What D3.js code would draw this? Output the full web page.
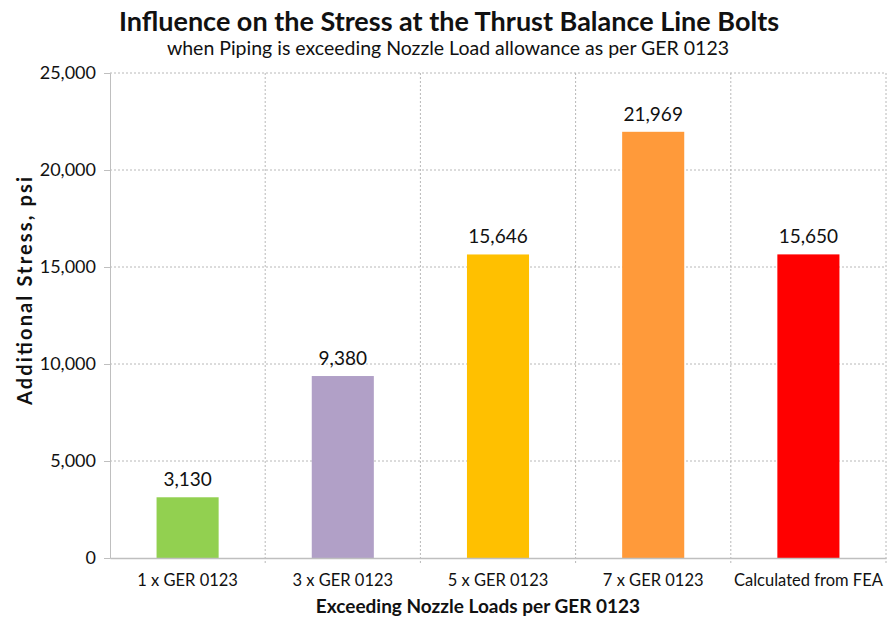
<!DOCTYPE html>
<html>
<head>
<meta charset="utf-8">
<script src="https://cdn.jsdelivr.net/npm/d3@7"></script>
<style>
  body { margin: 0; background: #fff; }
  svg { font-family: Lato, "Open Sans", sans-serif; }
</style>
</head>
<body>
<div id="chart"></div>
<script>
// chart data
const categories = ["1 x GER 0123", "3 x GER 0123", "5 x GER 0123", "7 x GER 0123", "Calculated from FEA"];
const stress = [3130, 9380, 15646, 21969, 15650];
const barColors = ["#92D050", "#B1A0C7", "#FFC000", "#FF9A3A", "#FF0000"];
const yTicks = [0, 5000, 10000, 15000, 20000, 25000];

const W = 891, H = 622;
const margin = { top: 73, right: 5, bottom: 64, left: 110 },
  width = W - margin.left - margin.right,
  height = H - margin.top - margin.bottom;

const root = d3.select("#chart")
  .append("svg")
  .attr("width", W)
  .attr("height", H);

const svg = root.append("g")
  .attr("transform", `translate(${margin.left},${margin.top})`);

const x = d3.scaleBand()
  .domain(categories)
  .range([0, width])
  .paddingInner(0.6)
  .paddingOuter(0.3);

const y = d3.scaleLinear()
  .domain([0, 25000])
  .range([height, 0]);

const fmt = d3.format(",");
const step = x.step();

// horizontal grid lines
svg.append("g")
  .selectAll("line")
  .data(yTicks.filter(d => d > 0))
  .enter()
  .append("line")
  .attr("x1", 0)
  .attr("x2", width)
  .attr("y1", d => y(d))
  .attr("y2", d => y(d))
  .attr("stroke", "#b8b8b8")
  .attr("stroke-dasharray", "2,2");

// vertical grid lines at band boundaries
svg.append("g")
  .selectAll("line")
  .data(categories)
  .enter()
  .append("line")
  .attr("x1", d => x(d) + x.bandwidth() / 2 + step / 2)
  .attr("x2", d => x(d) + x.bandwidth() / 2 + step / 2)
  .attr("y1", 0)
  .attr("y2", height + 6)
  .attr("stroke", "#b8b8b8")
  .attr("stroke-dasharray", "2,2");

// bars
svg.selectAll(".bar")
  .data(stress)
  .enter()
  .append("rect")
  .attr("class", "bar")
  .attr("x", (d, i) => x(categories[i]))
  .attr("y", d => y(d))
  .attr("width", x.bandwidth())
  .attr("height", d => height - y(d))
  .attr("fill", (d, i) => barColors[i]);

// value labels
svg.selectAll(".val")
  .data(stress)
  .enter()
  .append("text")
  .attr("class", "val")
  .attr("x", (d, i) => x(categories[i]) + x.bandwidth() / 2)
  .attr("y", d => y(d) - 11)
  .attr("text-anchor", "middle")
  .attr("font-size", "19px")
  .attr("fill", "#111")
  .text(d => fmt(d));

// y axis
const yAxis = svg.append("g")
  .call(d3.axisLeft(y).tickValues(yTicks).tickFormat(fmt).tickSize(6).tickPadding(8));
yAxis.select(".domain").attr("stroke", "#bfbfbf");
yAxis.selectAll(".tick line").attr("stroke", "#bfbfbf");
yAxis.selectAll("text").attr("font-size", "18px").attr("fill", "#111").attr("font-family", "Lato, sans-serif");

// x axis
const xAxis = svg.append("g")
  .attr("transform", `translate(0,${height})`)
  .call(d3.axisBottom(x).tickSize(0).tickPadding(16));
xAxis.select(".domain").attr("stroke", "#bfbfbf").attr("stroke-width", 1.5);
xAxis.selectAll("text").attr("font-size", "16.5px").attr("fill", "#111").attr("font-family", "Lato, sans-serif");

// titles
root.append("text")
  .attr("x", 449)
  .attr("y", 31)
  .attr("text-anchor", "middle")
  .attr("font-size", "27px")
  .attr("font-weight", "bold")
  .attr("fill", "#111")
  .text("Influence on the Stress at the Thrust Balance Line Bolts");

root.append("text")
  .attr("x", 448)
  .attr("y", 55)
  .attr("text-anchor", "middle")
  .attr("font-size", "19.5px")
  .attr("fill", "#111")
  .text("when Piping is exceeding Nozzle Load allowance as per GER 0123");

root.append("text")
  .attr("x", 478)
  .attr("y", 613)
  .attr("text-anchor", "middle")
  .attr("font-size", "19px")
  .attr("font-weight", "bold")
  .attr("fill", "#111")
  .text("Exceeding Nozzle Loads per GER 0123");

root.append("text")
  .attr("transform", `translate(32,291) rotate(-90)`)
  .attr("text-anchor", "middle")
  .attr("font-size", "20px")
  .attr("font-weight", "bold")
  .attr("fill", "#111")
  .attr("textLength", 228)
  .attr("lengthAdjust", "spacing")
  .text("Additional Stress, psi");
</script>
</body>
</html>
